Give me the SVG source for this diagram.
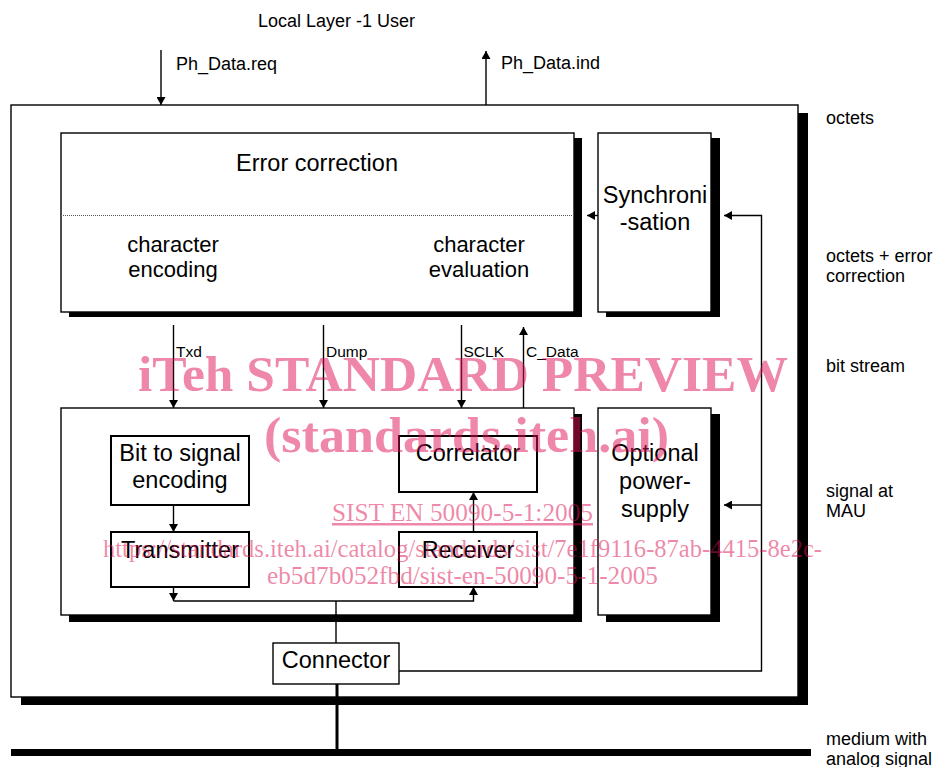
<svg xmlns="http://www.w3.org/2000/svg" width="934" height="767" viewBox="0 0 934 767">
<defs>
<style>
text{font-family:"Liberation Sans",Arial,sans-serif;fill:#000}
.lbl{font-size:23.5px;text-anchor:middle}
.sub{font-size:22px;text-anchor:middle}
.side{font-size:18px}
.sig{font-size:15.5px}
.box{fill:#fff;stroke:#000;stroke-width:1.4}
.ibox{fill:#fff;stroke:#000;stroke-width:2}
.shadow{fill:#000}
.ln{fill:none;stroke:#000;stroke-width:1.4}
.arr{marker-end:url(#ah)}
.wm{font-family:"Liberation Serif","Times New Roman",serif;fill:#dd1053;fill-opacity:0.5}
</style>
<marker id="ah" viewBox="0 0 8 9" markerWidth="8" markerHeight="9" refX="8" refY="4.5" orient="auto" markerUnits="userSpaceOnUse">
<path d="M0,0 L8,4.5 L0,9 z" fill="#000"/>
</marker>
</defs>

<g id="outer">
<rect class="shadow" x="21" y="113" width="787" height="592"/>
<rect class="box" x="11" y="105" width="787" height="592"/>
</g>

<g id="error-correction">
<rect class="shadow" x="69" y="138" width="513" height="179"/>
<rect class="box" x="61" y="133" width="513" height="179"/>
<line x1="61" y1="215.5" x2="574" y2="215.5" stroke="#555" stroke-width="1" stroke-dasharray="1,1"/>
<text class="lbl" x="317" y="171">Error correction</text>
<text class="sub" x="173" y="252">character</text>
<text class="sub" x="173" y="277">encoding</text>
<text class="sub" x="479" y="252">character</text>
<text class="sub" x="479" y="277">evaluation</text>
</g>

<g id="synchronisation">
<rect class="shadow" x="606" y="138" width="114" height="179"/>
<rect class="box" x="598" y="133" width="113" height="179"/>
<text class="lbl" x="655" y="203">Synchroni</text>
<text class="lbl" x="655" y="230">-sation</text>
</g>

<g id="signal-block">
<rect class="shadow" x="69" y="414" width="513" height="208"/>
<rect class="box" x="61" y="408" width="513" height="207"/>
</g>

<g id="power-supply">
<rect class="shadow" x="606" y="414" width="114" height="208"/>
<rect class="box" x="598" y="408" width="113" height="207"/>
<text class="lbl" x="655" y="461">Optional</text>
<text class="lbl" x="655" y="489">power-</text>
<text class="lbl" x="655" y="517">supply</text>
</g>

<g id="bit-to-signal">
<rect class="ibox" x="111" y="436" width="138" height="69"/>
<text class="lbl" x="180" y="461">Bit to signal</text>
<text class="lbl" x="180" y="488">encoding</text>
</g>

<g id="transmitter">
<rect class="ibox" x="111" y="532" width="138" height="55"/>
<text class="lbl" x="180" y="558">Transmitter</text>
</g>

<g id="correlator">
<rect class="ibox" x="399" y="436" width="138" height="56"/>
<text class="lbl" x="468" y="461">Correlator</text>
</g>

<g id="receiver">
<rect class="ibox" x="399" y="532" width="138" height="55"/>
<text class="lbl" x="468" y="558">Receiver</text>
</g>

<g id="connector">
<rect class="box" x="273" y="643" width="126" height="41"/>
<text class="lbl" x="336" y="668">Connector</text>
</g>

<g id="medium">
<rect x="11" y="749" width="800" height="7" fill="#000"/>
</g>

<g id="connectors">
<line class="ln arr" x1="161" y1="50" x2="161" y2="105"/>
<line class="ln arr" x1="486" y1="105" x2="486" y2="51"/>
<line class="ln arr" x1="598" y1="215.5" x2="587" y2="215.5"/>
<polyline class="ln arr" points="399,671 761.5,671 761.5,215.5 724,215.5"/>
<line class="ln arr" x1="761.5" y1="505" x2="724" y2="505"/>
<line class="ln arr" x1="173.5" y1="325" x2="173.5" y2="408"/>
<line class="ln arr" x1="323.5" y1="325" x2="323.5" y2="408"/>
<line class="ln arr" x1="461.5" y1="325" x2="461.5" y2="408"/>
<line class="ln arr" x1="523.5" y1="408" x2="523.5" y2="327"/>
<line class="ln arr" x1="173.5" y1="505" x2="173.5" y2="532"/>
<line class="ln arr" x1="173.5" y1="587" x2="173.5" y2="601"/>
<polyline class="ln arr" points="173.5,601 473.5,601 473.5,587"/>
<line class="ln arr" x1="473.5" y1="532" x2="473.5" y2="492"/>
<line class="ln" x1="336" y1="601" x2="336" y2="643"/>
<line x1="337" y1="684" x2="337" y2="750" stroke="#000" stroke-width="3"/>
</g>

<g id="labels">
<text class="side" x="258" y="27">Local Layer -1 User</text>
<text class="side" x="176" y="70">Ph_Data.req</text>
<text class="side" x="501" y="69">Ph_Data.ind</text>
<text class="sig" x="176" y="357">Txd</text>
<text class="sig" x="326" y="357">Dump</text>
<text class="sig" x="463.5" y="357">SCLK</text>
<text class="sig" x="526" y="357">C_Data</text>
<text class="side" x="826" y="124">octets</text>
<text class="side" x="826" y="262">octets + error</text>
<text class="side" x="826" y="282">correction</text>
<text class="side" x="826" y="372">bit stream</text>
<text class="side" x="826" y="497">signal at</text>
<text class="side" x="826" y="517">MAU</text>
<text class="side" x="826" y="745">medium with</text>
<text class="side" x="826" y="765">analog signal</text>
</g>

<g id="watermark">
<text class="wm" x="138" y="391" font-size="50" font-weight="bold" textLength="650" lengthAdjust="spacingAndGlyphs">iTeh STANDARD PREVIEW</text>
<text class="wm" x="264" y="452" font-size="50" font-weight="bold" textLength="405" lengthAdjust="spacingAndGlyphs">(standards.iteh.ai)</text>
<text class="wm" x="332" y="521" font-size="25" text-decoration="underline" textLength="261" lengthAdjust="spacingAndGlyphs">SIST EN 50090-5-1:2005</text>
<text class="wm" x="103" y="557" font-size="25" textLength="719" lengthAdjust="spacingAndGlyphs">https://standards.iteh.ai/catalog/standards/sist/7e1f9116-87ab-4415-8e2c-</text>
<text class="wm" x="267" y="584" font-size="25" textLength="391" lengthAdjust="spacingAndGlyphs">eb5d7b052fbd/sist-en-50090-5-1-2005</text>
</g>
</svg>
